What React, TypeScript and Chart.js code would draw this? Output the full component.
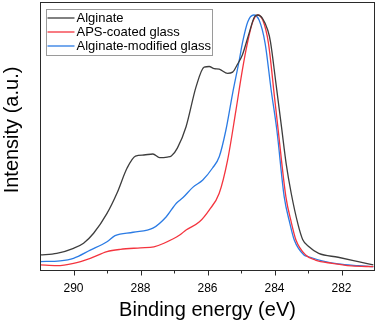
import React, { useEffect, useRef } from 'react';
import { Chart, registerables } from 'chart.js';

Chart.register(...registerables);

const FONT = "'Liberation Sans', Arial, Helvetica, sans-serif";

const seriesLabels = ['Alginate', 'APS-coated glass', 'Alginate-modified glass'];
const seriesColors = ['#3d3d3d', '#f4343e', '#2b7be4'];

// Binding energy (eV) / normalised intensity (a.u.)
const alginateEnergy = [291.0, 290.5, 290.0, 289.7, 289.4, 289.0, 288.7, 288.4, 288.15, 287.9, 287.63, 287.43, 287.2, 287.08, 286.9, 286.64, 286.34, 286.1, 285.95, 285.8, 285.65, 285.4, 285.25, 285.1, 284.96, 284.76, 284.6, 284.5, 284.36, 284.2, 284.12, 283.96, 283.79, 283.65, 283.5, 283.3, 283.16, 282.97, 282.68, 282.1, 281.5, 281.05];
const alginateIntensity = [0.059, 0.065, 0.085, 0.105, 0.144, 0.222, 0.302, 0.4, 0.447, 0.451, 0.455, 0.441, 0.443, 0.447, 0.478, 0.562, 0.719, 0.796, 0.798, 0.79, 0.788, 0.771, 0.776, 0.808, 0.843, 0.928, 0.992, 1.0, 0.987, 0.94, 0.895, 0.735, 0.56, 0.415, 0.3, 0.18, 0.12, 0.091, 0.065, 0.05, 0.033, 0.02];

const apsEnergy = [291.0, 290.5, 290.0, 289.5, 289.0, 288.6, 288.0, 287.6, 287.3, 286.83, 286.64, 286.24, 285.95, 285.65, 285.4, 285.15, 284.96, 284.81, 284.65, 284.5, 284.35, 284.18, 284.0, 283.89, 283.66, 283.5, 283.36, 283.07, 282.78, 282.28, 281.7, 281.05];
const apsIntensity = [0.02, 0.017, 0.026, 0.046, 0.072, 0.081, 0.087, 0.091, 0.105, 0.137, 0.157, 0.189, 0.235, 0.301, 0.431, 0.627, 0.784, 0.889, 0.973, 1.0, 0.98, 0.889, 0.678, 0.549, 0.287, 0.188, 0.118, 0.059, 0.039, 0.026, 0.016, 0.013];

const modifiedEnergy = [291.0, 290.4, 290.0, 289.5, 289.0, 288.76, 288.22, 287.63, 287.23, 286.93, 286.73, 286.44, 286.14, 285.85, 285.65, 285.45, 285.25, 285.05, 284.96, 284.8, 284.62, 284.46, 284.28, 284.1, 283.93, 283.71, 283.55, 283.41, 283.12, 282.98, 282.58, 282.1, 281.5, 281.05];
const modifiedIntensity = [0.033, 0.036, 0.046, 0.078, 0.111, 0.135, 0.148, 0.164, 0.209, 0.262, 0.284, 0.324, 0.353, 0.4, 0.444, 0.549, 0.693, 0.824, 0.889, 0.973, 1.0, 0.98, 0.889, 0.706, 0.549, 0.287, 0.188, 0.118, 0.059, 0.052, 0.036, 0.024, 0.017, 0.013];

const xMin = 281;
const xMax = 291;
const majorTicks = [290, 288, 286, 284, 282];
const minorTicks = [289, 287, 285, 283];
const yTitle = 'Intensity (a.u.)';

const toPoints = (xs: number[], ys: number[]) => xs.map((x, i) => ({ x, y: ys[i] }));

const framePlugin = {
  id: 'frameLegend',
  afterDraw(chart: any) {
    const { ctx, chartArea } = chart;
    const xs = chart.scales.x;
    const { left, top, right, bottom } = chartArea;
    ctx.save();
    // frame
    ctx.strokeStyle = '#2a2a2a';
    ctx.lineWidth = 1;
    ctx.strokeRect(Math.round(left) + 0.5, Math.round(top) + 0.5, Math.round(right - left) - 1, Math.round(bottom - top));
    // ticks
    const drawTick = (v: number, len: number) => {
      const px = Math.round(xs.getPixelForValue(v)) + 0.5;
      ctx.beginPath();
      ctx.moveTo(px, Math.round(bottom) + 0.5);
      ctx.lineTo(px, Math.round(bottom) + 0.5 + len);
      ctx.stroke();
    };
    majorTicks.forEach((v) => drawTick(v, 5));
    minorTicks.forEach((v) => drawTick(v, 3));
    // y title
    ctx.save();
    ctx.translate(12, (top + bottom) / 2 - 6);
    ctx.rotate(-Math.PI / 2);
    ctx.font = `20px ${FONT}`;
    ctx.fillStyle = '#000';
    ctx.textAlign = 'center';
    ctx.textBaseline = 'middle';
    ctx.fillText(yTitle, 0, 0);
    ctx.restore();
    // legend
    const bx = Math.round(left) + 6.5;
    const by = Math.round(top) + 7.5;
    const bw = 166;
    const bh = 46;
    ctx.strokeStyle = '#9a9a9a';
    ctx.lineWidth = 1;
    ctx.strokeRect(bx, by, bw, bh);
    ctx.font = `13px ${FONT}`;
    ctx.textBaseline = 'middle';
    ctx.textAlign = 'left';
    seriesLabels.forEach((label, i) => {
      const ry = by + 8.5 + i * 14;
      ctx.strokeStyle = seriesColors[i];
      ctx.lineWidth = 1.3;
      ctx.beginPath();
      ctx.moveTo(bx + 1, ry);
      ctx.lineTo(bx + 28, ry);
      ctx.stroke();
      ctx.fillStyle = '#000';
      ctx.fillText(label, bx + 30, ry + 0.5);
    });
    ctx.restore();
  },
};

export default function App() {
  const ref = useRef<HTMLCanvasElement>(null);
  useEffect(() => {
    if (!ref.current) return;
    const chart = new Chart(ref.current, {
      type: 'line',
      data: {
        datasets: [
          { label: seriesLabels[0], data: toPoints(alginateEnergy, alginateIntensity), borderColor: seriesColors[0] },
          { label: seriesLabels[1], data: toPoints(apsEnergy, apsIntensity), borderColor: seriesColors[1] },
          { label: seriesLabels[2], data: toPoints(modifiedEnergy, modifiedIntensity), borderColor: seriesColors[2] },
        ].map((d) => ({ ...d, borderWidth: 1.3, pointRadius: 0, fill: false, cubicInterpolationMode: 'monotone' as const })),
      },
      options: {
        responsive: false,
        animation: false,
        layout: { padding: { top: 2, right: 3, left: 0, bottom: 0 } },
        plugins: { legend: { display: false }, tooltip: { enabled: false } },
        scales: {
          x: {
            type: 'linear',
            reverse: true,
            min: xMin,
            max: xMax,
            afterFit: (s: any) => { s.height = 54; },
            afterBuildTicks: (s: any) => { s.ticks = majorTicks.map((v) => ({ value: v })); },
            grid: { display: false, drawTicks: false },
            border: { display: false },
            ticks: {
              autoSkip: false,
              maxRotation: 0,
              padding: 11,
              color: '#000',
              font: { family: FONT, size: 12 },
              callback: (v: any) => String(v),
            },
            title: {
              display: true,
              text: 'Binding energy (eV)',
              color: '#000',
              font: { family: FONT, size: 20 },
              padding: { top: 0, bottom: 2 },
            },
          },
          y: {
            min: 0,
            max: 1.051,
            afterFit: (s: any) => { s.width = 40; },
            grid: { display: false, drawTicks: false },
            border: { display: false },
            ticks: { display: false },
            title: { display: false },
          },
        },
      },
      plugins: [framePlugin],
    });
    return () => chart.destroy();
  }, []);
  return (
    <div style={{ position: 'fixed', left: 0, top: 0, width: 378, height: 324, background: '#fff' }}>
      <canvas ref={ref} width={378} height={324} style={{ width: 378, height: 324 }} />
    </div>
  );
}
